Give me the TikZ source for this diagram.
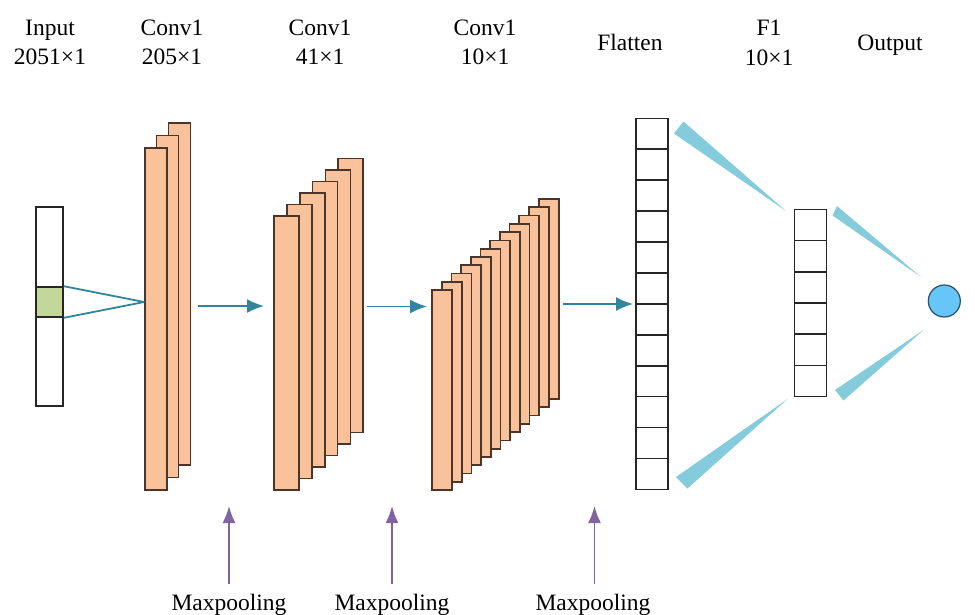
\documentclass[tikz,border=0pt]{standalone}
\usepackage{fontspec}
\setmainfont{Liberation Serif}
\usepackage{tikz}
\usetikzlibrary{arrows.meta}

\definecolor{mapfill}{HTML}{F9C29A}
\definecolor{mapline}{HTML}{4A3528}
\definecolor{cellgreen}{HTML}{C4D79B}
\definecolor{flowteal}{HTML}{31859C}
\definecolor{wedgeblue}{HTML}{84CCDC}
\definecolor{outblue}{HTML}{66C6F8}
\definecolor{poolpurple}{HTML}{8064A2}

\begin{document}
\begin{tikzpicture}[x=1pt, y=-1pt, font=\fontsize{23.5}{28}\selectfont]

\tikzstyle{map1} = [rectangle, draw=mapline, fill=mapfill, line width=1.7pt, inner sep=0pt, minimum width=22pt, minimum height=342pt]
\tikzstyle{map2} = [rectangle, draw=mapline, fill=mapfill, line width=1.7pt, inner sep=0pt, minimum width=25pt, minimum height=274pt]
\tikzstyle{map3} = [rectangle, draw=mapline, fill=mapfill, line width=1.7pt, inner sep=0pt, minimum width=20pt, minimum height=200pt]
\tikzstyle{cell} = [rectangle, draw=black!85, line width=1.6pt, inner sep=0pt, minimum width=32pt, minimum height=31pt]
\tikzstyle{label} = [anchor=base, inner sep=0pt]
\tikzstyle{flow} = [-{Latex[length=17pt, width=14pt]}, flowteal, line width=1.8pt]
\tikzstyle{pool} = [-{Latex[length=17pt, width=13pt]}, poolpurple, line width=1.8pt]
\tikzstyle{wedge} = [fill=wedgeblue, draw=none]

\useasboundingbox (0,0) rectangle (975,614);

%------------------------------------------------------------
	\node[label] (tin1) at (50,35) {Input};
	\node[label] (tin2) at (50,64) {2051×1};
	\node[label] (tc11) at (172,35) {Conv1};
	\node[label] (tc12) at (172,64) {205×1};
	\node[label] (tc21) at (320,35) {Conv1};
	\node[label] (tc22) at (320,64) {41×1};
	\node[label] (tc31) at (485,35) {Conv1};
	\node[label] (tc32) at (485,64) {10×1};
	\node[label] (tfl) at (630,50) {Flatten};
	\node[label] (tf11) at (769,35) {F1};
	\node[label] (tf12) at (769,65) {10×1};
	\node[label] (tout) at (890,50) {Output};

%------------------------------------------------------------
	\node[rectangle, draw=black!85, line width=1.6pt, inner sep=0pt, minimum width=27pt, minimum height=199pt] (in) at (49.5,306.5) {};
	\node[rectangle, draw=black!85, fill=cellgreen, line width=1.6pt, inner sep=0pt, minimum width=27pt, minimum height=30pt] (green) at (49.5,302) {};

%------------------------------------------------------------
	\node[map1] (c13) at (179.5,294) {};
	\node[map1] (c12) at (167.5,306.5) {};
	\node[map1] (c11) at (156,319) {};

	\node[map2] (c26) at (350.7,295.5) {};
	\node[map2] (c25) at (337.9,307) {};
	\node[map2] (c24) at (325.1,318.5) {};
	\node[map2] (c23) at (312.3,330) {};
	\node[map2] (c22) at (299.5,341.5) {};
	\node[map2] (c21) at (286.7,353) {};

	\node[map3] (c312) at (548.7,299) {};
	\node[map3] (c311) at (539.0,307.3) {};
	\node[map3] (c310) at (529.3,315.6) {};
	\node[map3] (c39) at (519.6,323.8) {};
	\node[map3] (c38) at (510.0,332.1) {};
	\node[map3] (c37) at (500.3,340.4) {};
	\node[map3] (c36) at (490.6,348.7) {};
	\node[map3] (c35) at (481.0,356.9) {};
	\node[map3] (c34) at (471.3,365.2) {};
	\node[map3] (c33) at (461.6,373.5) {};
	\node[map3] (c32) at (452.0,381.7) {};
	\node[map3] (c31) at (442.3,390) {};

%------------------------------------------------------------
	\node[inner sep=0pt, minimum width=32pt, minimum height=371pt] (flat) at (652.2,303.8) {};
	\node[cell] (f1) at (652.2,133.8) {};
	\node[cell] (f2) at (652.2,164.7) {};
	\node[cell] (f3) at (652.2,195.6) {};
	\node[cell] (f4) at (652.2,226.5) {};
	\node[cell] (f5) at (652.2,257.4) {};
	\node[cell] (f6) at (652.2,288.3) {};
	\node[cell] (f7) at (652.2,319.3) {};
	\node[cell] (f8) at (652.2,350.2) {};
	\node[cell] (f9) at (652.2,381.1) {};
	\node[cell] (f10) at (652.2,412.0) {};
	\node[cell] (f11) at (652.2,442.9) {};
	\node[cell] (f12) at (652.2,473.8) {};

	\node[cell] (d1) at (810.5,224.9) {};
	\node[cell] (d2) at (810.5,256.1) {};
	\node[cell] (d3) at (810.5,287.3) {};
	\node[cell] (d4) at (810.5,318.6) {};
	\node[cell] (d5) at (810.5,349.8) {};
	\node[cell] (d6) at (810.5,381.0) {};

	\node[circle, draw=black!60!outblue, fill=outblue, line width=1.2pt, minimum size=32pt, inner sep=0pt] (out) at (944.3,301) {};

%------------------------------------------------------------
	\draw[flowteal, line width=1.8pt] (green.north east) -- (c11.west |- green.east);
	\draw[flowteal, line width=1.8pt] (green.south east) -- (c11.west |- green.east);

	\coordinate (a1) at (198,306);
	\coordinate (b1) at (264,306);
	\coordinate (a2) at (367,306.5);
	\coordinate (b2) at (427,306.5);
	\coordinate (a3) at (563,304);
	\path[flow] (a1) edge (b1);
	\path[flow] (a2) edge (b2);
	\path[flow, shorten >=3pt] (a3) edge (a3 -| flat.west);

%------------------------------------------------------------
	\fill[wedge] (674,133.5) -- (683.5,121.5) -- (786,211) -- cycle;
	\fill[wedge] (676,477) -- (687.5,488.5) -- (787.5,399) -- cycle;
	\fill[wedge] (832.5,215.5) -- (837,206) -- (921,277) -- cycle;
	\fill[wedge] (835,390) -- (843.5,400.5) -- (923.5,330) -- cycle;

%------------------------------------------------------------
	\node[label] (mp1) at (229,610) {Maxpooling};
	\node[label] (mp2) at (392,610) {Maxpooling};
	\node[label] (mp3) at (593,610) {Maxpooling};
	\coordinate (p1) at (229,506);
	\coordinate (p2) at (392,506);
	\coordinate (p3) at (594.5,506);
	\path[pool, shorten <=10pt] (mp1.north) edge (p1);
	\path[pool, shorten <=10pt] (mp2.north) edge (p2);
	\path[pool, shorten <=10pt] (mp3.north -| p3) edge (p3);

\end{tikzpicture}
\end{document}
